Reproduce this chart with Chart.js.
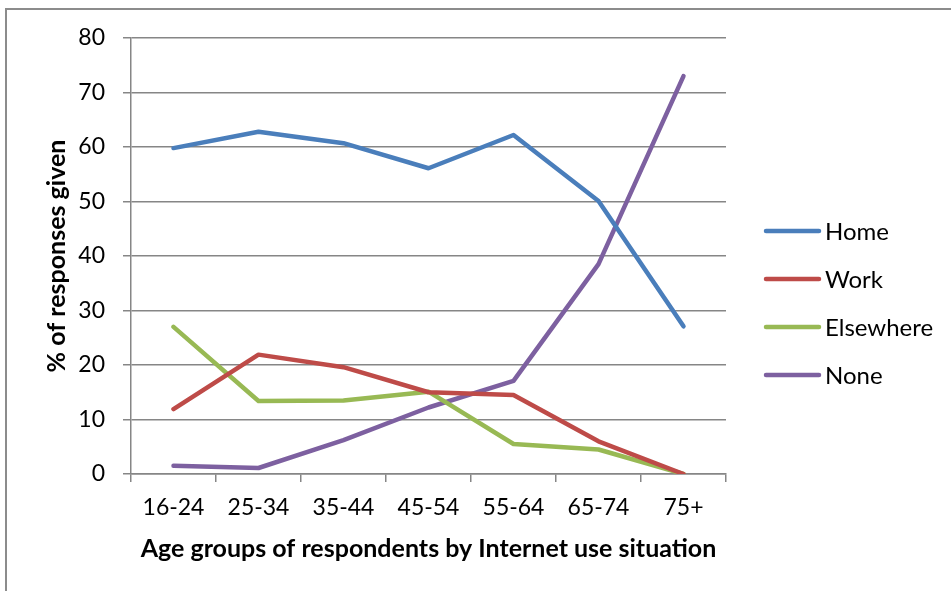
<!DOCTYPE html>
<html>
<head>
<meta charset="utf-8">
<script src="https://cdn.jsdelivr.net/npm/chart.js@4.4.0/dist/chart.umd.min.js"></script>
<style>
  html, body { margin: 0; padding: 0; background: #fff; }
  #wrap { position: relative; width: 951px; height: 591px; overflow: hidden; }
  #frame { position: absolute; left: 5px; top: 8px; width: 1000px; height: 700px;
           border-left: 2px solid #8c8c8c; border-top: 2px solid #8c8c8c; }
  #chart { position: absolute; left: 0; top: 0; }
</style>
</head>
<body>
<div id="wrap">
  <div id="frame"></div>
  <canvas id="chart" width="951" height="591"></canvas>
</div>
<script>
(function(){
  'use strict';

  // values
  const ageGroups = ['16-24', '25-34', '35-44', '45-54', '55-64', '65-74', '75+'];
  const home      = [59.8, 62.8, 60.7, 56.1, 62.2, 50.1, 27.1];
  const work      = [11.9, 21.9, 19.6, 15.0, 14.5, 6.0, 0];
  const elsewhere = [27.0, 13.4, 13.5, 15.1, 5.5, 4.5, 0];
  const none      = [1.5, 1.1, 6.2, 12.2, 17.1, 38.5, 73.0];
  const yTicks    = [0, 10, 20, 30, 40, 50, 60, 70, 80];

  const FONT = 'Lato, "Open Sans", sans-serif';
  const GRID = '#868686';

  // legend on the right, drawn by hand so the spacing follows the picture
  const sideLegend = {
    id: 'sideLegend',
    afterDraw(chart) {
      const ctx = chart.ctx;
      ctx.save();
      ctx.font = '24px ' + FONT;
      ctx.textBaseline = 'middle';
      ctx.fillStyle = '#000';
      chart.data.datasets.forEach((ds, i) => {
        const y = 231 + i * 48;
        ctx.strokeStyle = ds.borderColor;
        ctx.lineWidth = 4.5;
        ctx.lineCap = 'round';
        ctx.beginPath();
        ctx.moveTo(766, y);
        ctx.lineTo(819, y);
        ctx.stroke();
        ctx.fillText(ds.label, 825, y + 1);
      });
      ctx.restore();
    }
  };

  function line(label, data, color) {
    return {
      label: label,
      data: data,
      borderColor: color,
      backgroundColor: color,
      borderWidth: 4.5,
      pointRadius: 0,
      tension: 0,
      borderCapStyle: 'round',
      borderJoinStyle: 'round'
    };
  }

  const ctx = document.getElementById('chart').getContext('2d');
  new Chart(ctx, {
    type: 'line',
    data: {
      labels: ageGroups,
      datasets: [
        line('Home', home, '#4A7EBB'),
        line('Work', work, '#BE4B48'),
        line('Elsewhere', elsewhere, '#98B954'),
        line('None', none, '#7D60A0')
      ]
    },
    options: {
      responsive: false,
      animation: false,
      layout: { padding: { left: 0, right: 225, top: 38, bottom: 0 } },
      plugins: { legend: { display: false }, tooltip: { enabled: false } },
      scales: {
        x: {
          offset: true,
          grid: { offset: true, drawOnChartArea: false, tickLength: 8, color: GRID, lineWidth: 1.5 },
          border: { color: GRID, width: 1.5 },
          ticks: { color: '#000', font: { family: FONT, size: 23 }, padding: 12, maxRotation: 0 },
          title: {
            display: true,
            text: 'Age groups of respondents by Internet use situation',
            color: '#000',
            font: { family: FONT, size: 25, weight: 'bold' },
            padding: { bottom: 27 }
          },
          afterFit(scale) { scale.height = 117; }
        },
        y: {
          min: 0,
          max: 80,
          afterBuildTicks(scale) { scale.ticks = yTicks.map(v => ({ value: v })); },
          grid: { tickLength: 8, color: GRID, lineWidth: 1.5 },
          border: { color: GRID, width: 1.5 },
          ticks: { color: '#000', font: { family: FONT, size: 23 }, padding: 18 },
          title: {
            display: true,
            text: '% of responses given',
            color: '#000',
            font: { family: FONT, size: 25, weight: 'bold' },
            padding: { top: 42 }
          },
          afterFit(scale) { scale.width = 131; }
        }
      }
    },
    plugins: [sideLegend]
  });
})();
</script>
</body>
</html>
